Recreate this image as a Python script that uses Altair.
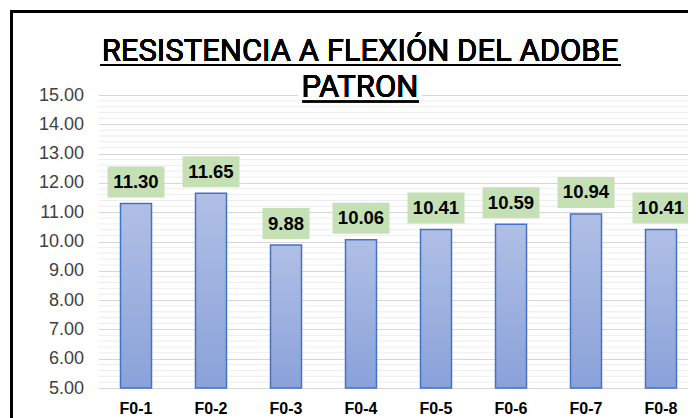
import altair as alt
import pandas as pd

categories = ["F0-1", "F0-2", "F0-3", "F0-4", "F0-5", "F0-6", "F0-7", "F0-8"]
values = [11.30, 11.65, 9.88, 10.06, 10.41, 10.59, 10.94, 10.41]
title_lines = ["RESISTENCIA A FLEXIÓN DEL ADOBE", "PATRON"]
major_ticks = [5, 6, 7, 8, 9, 10, 11, 12, 13, 14, 15]
minor_ticks = [round(5 + 0.2 * i, 1) for i in range(51) if i % 5 != 0]

df = pd.DataFrame({"cat": categories, "value": values})
df["label"] = df["value"].map(lambda v: f"{v:.2f}")
minor_df = pd.DataFrame({"value": minor_ticks})

SANS = "Liberation Sans, Arial, sans-serif"
TITLE_FONT = "Roboto, Liberation Sans, sans-serif"

x_enc = alt.X("cat:N", sort=categories, title=None,
              scale=alt.Scale(paddingInner=0, paddingOuter=0),
              axis=alt.Axis(labelAngle=0, labelFont=SANS, labelFontSize=16,
                            labelFontWeight="bold", labelColor="#000000",
                            labelPadding=12, ticks=False, domain=False))
y_scale = alt.Scale(domain=[5, 15], zero=False, nice=False)
y_axis = alt.Axis(values=major_ticks, ticks=False, domain=False, format=".2f",
                  labelOverlap=False, labelFont=SANS, labelFontSize=18,
                  labelColor="#404040", labelPadding=15,
                  gridColor="#D6D6D6", gridWidth=1)
y_enc = alt.Y("value:Q", scale=y_scale, title=None, axis=y_axis)

base = alt.Chart(df)

minor_grid = alt.Chart(minor_df).mark_rule(color="#EDEDED", strokeWidth=1).encode(
    y=y_enc, x=alt.value(0), x2=alt.value(600))

bars = base.mark_bar(
    width=31,
    color=alt.Gradient(gradient="linear", x1=0, y1=0, x2=0, y2=1,
                       stops=[alt.GradientStop(offset=0, color="#B0BFE5"),
                              alt.GradientStop(offset=1, color="#8AA2DA")]),
    stroke="#4472C4", strokeWidth=1.5,
).encode(x=x_enc, y=y_enc, y2=alt.datum(5))

path5 = "M-1,-0.544L1,-0.544L1,0.544L-1,0.544Z"
path4 = "M-0.825,-0.544L0.825,-0.544L0.825,0.544L-0.825,0.544Z"

boxes = base.transform_calculate(n="length(datum.label)").mark_point(
    filled=True, fill="#C5E0B4", opacity=1, strokeWidth=0, size=3249, yOffset=-21.5
).encode(
    x=x_enc,
    y=y_enc,
    shape=alt.Shape("n:O", scale=alt.Scale(domain=[4, 5], range=[path4, path5]), legend=None),
)

labels = base.mark_text(
    font=SANS, fontSize=18.5, fontWeight="bold", color="#000000",
    baseline="middle", dy=-21.5,
).encode(x=x_enc, y=y_enc, text="label:N")

# title and frame decoration
title_bg = base.mark_rect(color="white").encode(
    x=alt.value(199.5), x2=alt.value(323.5), y=alt.value(-25), y2=alt.value(4.5))
t1 = base.mark_text(font=TITLE_FONT, fontSize=31, color="#000000", align="center",
                    baseline="alphabetic").encode(
    x=alt.value(261.5), y=alt.value(-34), text=alt.value(title_lines[0]))
t2 = base.mark_text(font=TITLE_FONT, fontSize=31, color="#000000", align="center",
                    baseline="alphabetic").encode(
    x=alt.value(261.5), y=alt.value(2), text=alt.value(title_lines[1]))
u1 = base.mark_rule(color="#000000", strokeWidth=1.6).encode(
    x=alt.value(1.5), x2=alt.value(522.5), y=alt.value(-30))
u2 = base.mark_rule(color="#000000", strokeWidth=1.6).encode(
    x=alt.value(203.5), x2=alt.value(320.5), y=alt.value(6.5))
frame_l = base.mark_rule(color="#000000", strokeWidth=2).encode(
    x=alt.value(-87), y=alt.value(-84.5), y2=alt.value(400))
frame_t = base.mark_rule(color="#000000", strokeWidth=2).encode(
    x=alt.value(-88), x2=alt.value(700), y=alt.value(-83.5))

chart = alt.layer(minor_grid, bars, boxes, labels, title_bg, t1, t2, u1, u2, frame_l, frame_t).properties(
    width=600, height=293,
    autosize=alt.AutoSizeParams(type="none"),
    padding={"left": 90.5, "top": 87, "right": -10.5, "bottom": 30},
    background="white",
).configure_view(stroke=None)

chart.save("out.html", embed_options={"renderer": "svg", "actions": False})
